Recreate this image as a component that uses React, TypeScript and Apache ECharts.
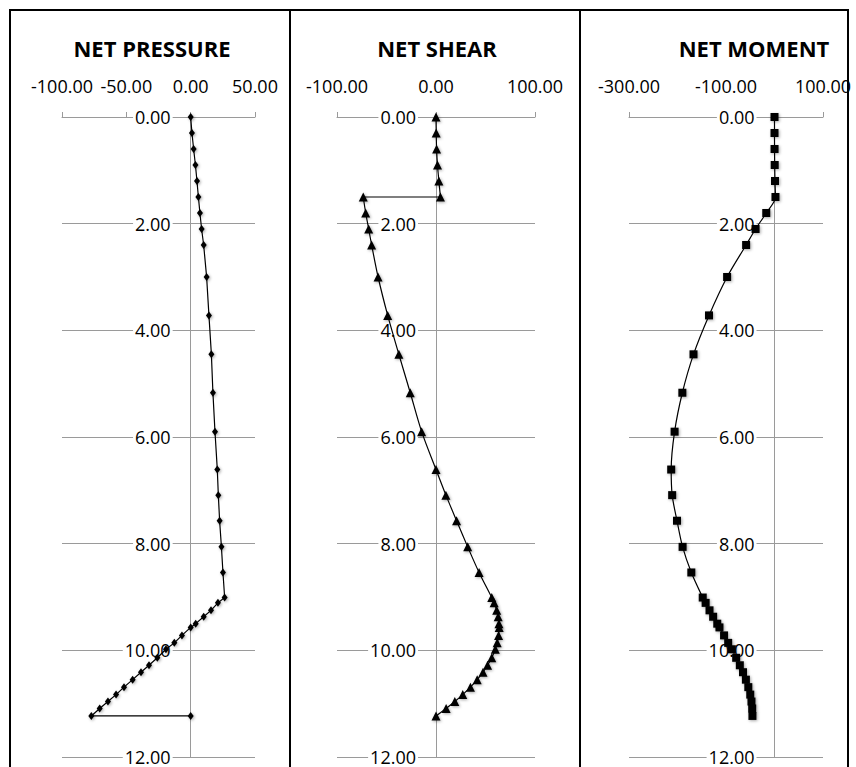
import React, { useEffect, useRef } from "react";
import * as echarts from "echarts";

// ---- Data ----
const panelTitles = ["NET PRESSURE", "NET SHEAR", "NET MOMENT"];

const pressureDepth = [0, 0.3, 0.6, 0.9, 1.2, 1.5, 1.8, 2.1, 2.4, 3.0, 3.72, 4.45, 5.17, 5.9, 6.61, 7.09, 7.57, 8.06, 8.54, 9.01, 9.11, 9.25, 9.37, 9.5, 9.57, 9.72, 9.86, 9.98, 10.14, 10.28, 10.41, 10.55, 10.69, 10.83, 10.96, 11.09, 11.23, 11.23];
const pressureValues = [0, 1.0, 2.3, 3.7, 4.9, 6.0, 7.2, 8.5, 10.1, 12.4, 14.2, 16.1, 17.3, 18.9, 20.7, 21.5, 22.5, 23.9, 25.1, 26.4, 21.2, 15.8, 10.1, 3.9, 0, -6.8, -12.7, -19.2, -25.9, -32.4, -38.6, -45.1, -51.8, -58.0, -64.3, -70.7, -77.2, 0];

const shearDepth = [0, 0.3, 0.6, 0.9, 1.2, 1.5, 1.5, 1.8, 2.1, 2.4, 3.0, 3.72, 4.45, 5.17, 5.9, 6.61, 7.09, 7.57, 8.06, 8.54, 9.01, 9.11, 9.25, 9.37, 9.5, 9.57, 9.72, 9.86, 9.98, 10.14, 10.28, 10.41, 10.55, 10.69, 10.83, 10.96, 11.09, 11.23];
const shearValues = [0, 0.2, 0.6, 1.5, 2.9, 4.5, -73.5, -71, -68, -65, -58.5, -48.8, -37.5, -26, -14.5, 0, 10, 20.8, 32, 43.5, 56.3, 58.7, 61.3, 62.8, 63.6, 63.8, 63.2, 61.8, 59.9, 56.3, 52.1, 47.5, 41.6, 34.8, 27, 19, 10.2, 0];

const momentDepth = [0, 0.3, 0.6, 0.9, 1.2, 1.5, 1.8, 2.1, 2.4, 3.0, 3.72, 4.45, 5.17, 5.9, 6.61, 7.09, 7.57, 8.06, 8.54, 9.01, 9.11, 9.25, 9.37, 9.5, 9.57, 9.72, 9.86, 9.98, 10.14, 10.28, 10.41, 10.55, 10.69, 10.83, 10.96, 11.09, 11.23];
const momentValues = [0, 0, 0.1, 0.4, 1, 2, -17, -39, -58.5, -97.7, -135, -167, -190, -206, -213, -211, -201, -189.5, -171.5, -148, -142, -134, -126.5, -118, -113.5, -104, -95.5, -88, -79, -71.5, -65, -59, -54, -50, -47.5, -46, -45.5];

const xMin = [-100, -100, -300];
const xMax = [50, 100, 100];
const xInterval = [50, 100, 200];
const depthMin = 0;
const depthMax = 12;
const depthInterval = 2;

const FONT = '"Open Sans", "Liberation Sans", sans-serif';

export default function App() {
  const ref = useRef<HTMLDivElement>(null);

  useEffect(() => {
    if (!ref.current) return;
    const chart = echarts.init(ref.current, null, { renderer: "svg" });

    const gridPos = [
      { left: 62, width: 193 },
      { left: 337, width: 198 },
      { left: 629, width: 194 },
    ];
    const titleX = [152, 437, 754];
    // shift each depth axis (line + labels) from the grid's left edge to the x = 0 position
    const zeroOffset = gridPos.map((g, i) => -((0 - xMin[i]) / (xMax[i] - xMin[i])) * g.width);

    const pair = (xs: number[], ys: number[]) => xs.map((x, i) => [x, ys[i]]);
    const seriesData = [
      pair(pressureValues, pressureDepth),
      pair(shearValues, shearDepth),
      pair(momentValues, momentDepth),
    ];
    const symbols = ["diamond", "triangle", "rect"];
    const symbolSizes = [[6, 8], 9, 8];
    const smooth = [false, 0.3, 0.3];

    const gray = "#9a9a9a";

    const option: any = {
      animation: false,
      backgroundColor: "#ffffff",
      textStyle: { fontFamily: FONT },
      grid: gridPos.map((g) => ({ left: g.left, width: g.width, top: 117, height: 640, containLabel: false })),
      xAxis: gridPos.map((_, i) => ({
        type: "value",
        gridIndex: i,
        position: "top",
        min: xMin[i],
        max: xMax[i],
        interval: xInterval[i],
        axisLine: { show: true, onZero: false, lineStyle: { color: gray, width: 1 } },
        axisTick: { show: true, inside: false, length: 5, lineStyle: { color: gray } },
        splitLine: { show: false },
        axisLabel: {
          show: true,
          margin: 22,
          color: "#000",
          fontFamily: FONT,
          fontSize: 18,
          formatter: (v: number) => v.toFixed(2),
        },
      })),
      yAxis: gridPos.map((_, i) => ({
        type: "value",
        gridIndex: i,
        inverse: true,
        position: "left",
        offset: zeroOffset[i],
        min: depthMin,
        max: depthMax,
        interval: depthInterval,
        axisLine: { show: true, onZero: false, lineStyle: { color: gray, width: 1 } },
        axisTick: { show: false },
        splitLine: { show: true, lineStyle: { color: gray, width: 1 } },
        axisLabel: {
          show: true,
          margin: 18,
          color: "#000",
          fontFamily: FONT,
          fontSize: 18,
          backgroundColor: "#ffffff",
          padding: [0, 2],
          formatter: (v: number) => v.toFixed(2),
        },
      })),
      series: seriesData.map((d, i) => ({
        type: "line",
        xAxisIndex: i,
        yAxisIndex: i,
        data: d,
        smooth: smooth[i],
        symbol: symbols[i],
        symbolSize: symbolSizes[i],
        showSymbol: true,
        lineStyle: { color: "#000", width: 1.2 },
        itemStyle: {
          color: "#000",
          borderWidth: 0,
          shadowBlur: 3,
          shadowColor: "rgba(0,0,0,0.35)",
          shadowOffsetX: 1,
          shadowOffsetY: 1,
        },
        z: 5,
      })),
      graphic: [
        ...panelTitles.map((t, i) => ({
          type: "text",
          x: titleX[i],
          y: 48,
          style: {
            text: t,
            fill: "#000",
            font: `bold 22px ${FONT}`,
            textAlign: "center",
            textVerticalAlign: "middle",
          },
        })),
        { type: "line", shape: { x1: 9, y1: 10, x2: 849, y2: 10 }, style: { stroke: "#000", lineWidth: 2 } },
        { type: "line", shape: { x1: 10, y1: 10, x2: 10, y2: 767 }, style: { stroke: "#000", lineWidth: 2 } },
        { type: "line", shape: { x1: 290, y1: 10, x2: 290, y2: 767 }, style: { stroke: "#000", lineWidth: 2 } },
        { type: "line", shape: { x1: 580, y1: 10, x2: 580, y2: 767 }, style: { stroke: "#000", lineWidth: 2 } },
        { type: "line", shape: { x1: 848, y1: 10, x2: 848, y2: 767 }, style: { stroke: "#000", lineWidth: 2 } },
      ],
    };

    chart.setOption(option);
    return () => chart.dispose();
  }, []);

  return (
    <div
      ref={ref}
      style={{ position: "absolute", left: 0, top: 0, width: 856, height: 767, background: "#fff" }}
    />
  );
}
